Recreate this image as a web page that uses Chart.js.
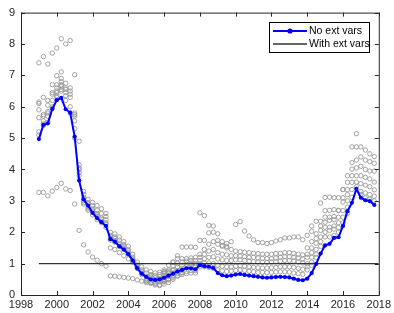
<!DOCTYPE html>
<html>
<head>
<meta charset="utf-8">
<script src="https://cdn.jsdelivr.net/npm/chart.js@4.4.0/dist/chart.umd.min.js"></script>
<style>
  html, body { margin: 0; padding: 0; background: #fff; }
  #wrap { width: 394px; height: 313px; }
</style>
</head>
<body>
<div id="wrap"><canvas id="c" width="394" height="313"></canvas></div>
<script>
// x axis: years, quarterly points
const xTicks = [1998, 2000, 2002, 2004, 2006, 2008, 2010, 2012, 2014, 2016, 2018];
const yTicks = [0, 1, 2, 3, 4, 5, 6, 7, 8, 9];

// No ext vars (blue), quarterly from 1999Q1
const blueStart = 1999.0;
const blueVals = [
  4.97, 5.42, 5.47, 5.93,
  6.21, 6.28, 5.92, 5.81,
  5.05, 3.65, 3.05, 2.85,
  2.62, 2.45, 2.32, 2.20,
  1.78, 1.70, 1.55, 1.45,
  1.30, 1.10, 0.85, 0.68,
  0.58, 0.50, 0.48, 0.50,
  0.55, 0.62, 0.68, 0.75,
  0.80, 0.85, 0.85, 0.82,
  0.95, 0.92, 0.90, 0.86,
  0.70, 0.63, 0.60, 0.62,
  0.65, 0.67, 0.64, 0.62,
  0.60, 0.58, 0.56, 0.55,
  0.56, 0.57, 0.58, 0.57,
  0.56, 0.52, 0.48, 0.47,
  0.52, 0.70, 0.99, 1.32,
  1.58, 1.63, 1.82, 1.84,
  2.20, 2.67, 2.94, 3.38,
  3.10, 3.02, 2.99, 2.87
];

// With ext vars (black)
const extX = [1999, 2018];
const extY = [1, 1];

// gray circles: real-time vintages, each with a start quarter
const grayTop = [7.40, 7.60, 7.36, 7.71, 7.87, 8.17, 8.00, 8.11];
const grayTop2 = [6.99, 7.11, null, null, 7.02];
const grayE1 = [6.15, 6.30, 6.20, 6.70, 6.70, 6.90, 6.75, 6.60, 5.80, 4.15, 3.20, 2.95, 2.95, 2.85, 2.75, 2.60, 2.00, 1.95, 1.85, 1.70, 1.55, 1.30, 1.05, 0.90, 0.80, 0.75, 0.70, 0.72, 0.75];
const grayE2 = [6.10, 5.75, 6.05, 6.45, 6.60, 6.80, 6.60, 6.50, 5.75, 4.90, 3.30, 3.05, 2.85, 2.70, 2.60, 2.50, 1.90, 1.85, 1.75, 1.60, 1.45, 1.20, 0.95, 0.80, 0.70, 0.65, 0.62, 0.65, 0.70, 0.75, 0.80];
const grayE3 = [5.90, 5.55, 5.80, 6.20, 6.45, 6.65, 6.45, 6.30, 5.55, 4.05, 3.10, 2.90, 2.75, 2.60, 2.45, 2.40, 1.85, 1.80, 1.65, 1.55, 1.40, 1.15, 0.90, 0.75, 0.60, 0.55, 0.55, 0.58, 0.62, 0.70];
const grayE4 = [5.65, 5.45, 5.70, 6.00, 6.30, 6.50, 6.20, 6.00, 5.30, 3.90, 3.00, 2.80, 2.65, 2.50, 2.35, 2.30, 1.80, 1.72, 1.60, 1.50, 1.35, 1.12, 0.88, 0.70, 0.50, 0.45, 0.42, 0.45, 0.50];
const grayE5 = [5.20, 5.40, 5.50, 5.95, 6.35, 6.55, 6.35, 5.80, 5.00, 3.80, 2.90, 2.70, 2.55, 2.40, 2.30, 2.15, 1.75, 1.68, 1.55, 1.45, 1.30, 1.08, 0.85, 0.65, 0.45, 0.40, 0.38, 0.42, 0.45, 0.52];
const grayE6 = [5.10, 5.70, 5.85, 6.40, 6.50, 6.70, 6.55, 6.40, 5.70, 4.00, 2.95, 2.75, 2.70, 2.55, 2.40, 2.25];
const grayLow1 = [3.27, 3.27, 3.16, 3.31, 3.43, 3.56, 3.38, 3.33, 2.90, 2.06, 1.60, 1.37, 1.21, 1.11, 1.00, 0.92];
const grayLow2 = [0.61, 0.60, 0.58, 0.56, 0.54, 0.52, 0.48, 0.44, 0.40, 0.37, 0.32, 0.30];
const grayLow3 = [1.50, 1.45, 1.35, 1.25, 1.15, 1.05, 0.95];
const grayB6 = [0.45, 0.40, 0.35, 0.33, 0.35, 0.40, 0.50, 0.60, 0.65, 0.68, 0.70, 0.70];
const grayB7 = [0.60, 0.55, 0.50, 0.45, 0.48, 0.55, 0.62, 0.70];
const grayRise = [1.05, 1.25, 1.53, 1.53, 1.53, 1.52];
const grayMid2008 = [1.74, 1.74, 1.98, 2.00, 1.74, 1.58, 1.55];
const grayTopMid = [2.62, 2.53, 2.22, 2.20, 1.95, 1.70, 1.64, 1.70, 2.25, 2.34, 2.04, 1.88, 1.76, 1.67, 1.67, 1.64, 1.67, 1.72, 1.76, 1.82, 1.82, 1.85, 1.85, 1.76, 1.90, 2.03];
const grayB1 = [0.80, 0.95, 1.05, 1.16, 1.16, 1.16, 1.18, 1.20, 1.30, 1.45, 1.62, 1.70, 1.62, 1.55, 1.50, 1.45, 1.40, 1.38, 1.36, 1.35, 1.33, 1.32, 1.30, 1.30, 1.30, 1.32, 1.33, 1.35, 1.35, 1.33, 1.30, 1.28];
const grayB2 = [0.70, 0.80, 0.92, 1.00, 1.05, 1.08, 1.10, 1.10, 1.20, 1.30, 1.40, 1.45, 1.35, 1.30, 1.28, 1.25, 1.25, 1.24, 1.22, 1.20, 1.20, 1.18, 1.17, 1.16, 1.16, 1.18, 1.20, 1.22, 1.22, 1.20, 1.18, 1.15];
const grayB3 = [0.60, 0.70, 0.80, 0.90, 0.95, 0.98, 1.00, 1.00, 1.10, 1.15, 1.20, 1.22, 1.15, 1.12, 1.10, 1.10, 1.12, 1.12, 1.10, 1.08, 1.06, 1.05, 1.04, 1.04, 1.05, 1.06, 1.08, 1.10, 1.10, 1.08, 1.05, 1.02];
const grayB4 = [0.50, 0.60, 0.70, 0.78, 0.85, 0.90, 0.92, 0.92, 1.00, 1.02, 1.02, 1.00, 0.95, 0.92, 0.90, 0.90, 0.92, 0.93, 0.92, 0.90, 0.88, 0.87, 0.86, 0.86, 0.87, 0.88, 0.90, 0.90, 0.90, 0.88, 0.85, 0.82];
const grayB5 = [0.42, 0.50, 0.60, 0.68, 0.72, 0.75, 0.78, 0.78, 0.90, 0.90, 0.88, 0.85, 0.80, 0.77, 0.75, 0.76, 0.78, 0.80, 0.78, 0.76, 0.74, 0.72, 0.72, 0.71, 0.72, 0.73, 0.74, 0.74, 0.73, 0.70, 0.68, 0.66];
const grayF1 = [2.20, 2.35, 2.93, 3.11, 3.12, 3.10, 3.10, 3.36, 3.80, 4.72, 5.14, 4.72, 4.62, 4.50, 4.41];
const grayF2 = [1.50, 1.70, 1.95, 2.35, 2.69, 2.70, 2.72, 2.70, 3.36, 3.59, 4.22, 4.72, 4.40, 4.30, 4.25, 4.20];
const grayF3 = [1.30, 1.50, 1.80, 2.20, 2.48, 2.48, 2.50, 2.69, 3.10, 3.36, 4.01, 4.30, 4.10, 4.00, 3.95, 3.95];
const grayF4 = [1.20, 1.35, 1.65, 2.06, 2.32, 2.38, 2.40, 2.48, 2.96, 3.20, 3.80, 4.05, 3.80, 3.75, 3.70, 3.60];
const grayF5 = [1.00, 1.20, 1.45, 1.85, 2.16, 2.16, 2.20, 2.30, 2.69, 3.00, 3.59, 3.80, 3.55, 3.50, 3.45, 3.35];
const grayF6 = [0.90, 1.05, 1.30, 1.70, 2.00, 2.06, 2.10, 2.15, 2.48, 2.80, 3.36, 3.60, 3.30, 3.25, 3.20, 3.15];
const grayF7 = [0.80, 0.95, 1.20, 1.55, 1.85, 1.85, 1.90, 2.00, 2.30, 2.60, 3.11, 3.45, 3.20, 3.10, 3.05, 3.00];

const graySeries = [
  [1999.0, grayTop], [2000.0, grayTop2],
  [1999.0, grayE1], [1999.0, grayE2], [1999.0, grayE3], [1999.0, grayE4], [1999.0, grayE5], [1999.0, grayE6],
  [1999.0, grayLow1], [2003.0, grayLow2], [2003.0, grayLow3],
  [2005.0, grayB6], [2005.25, grayB7], [2006.5, grayRise], [2008.0, grayMid2008], [2008.0, grayTopMid],
  [2006.0, grayB1], [2006.0, grayB2], [2006.0, grayB3], [2006.0, grayB4], [2006.0, grayB5],
  [2014.25, grayF1], [2014.0, grayF2], [2014.0, grayF3], [2014.0, grayF4], [2014.0, grayF5], [2014.0, grayF6], [2014.0, grayF7]
];

function toPoints(start, vals) {
  return vals.map((v, i) => ({ x: start + i * 0.25, y: v })).filter(p => p.y !== null);
}

const grayPoints = [];
graySeries.forEach(([s, v]) => grayPoints.push(...toPoints(s, v)));

const axisColor = '#262626';
const fontFam = '"Liberation Sans", Arial, Helvetica, sans-serif';

// box + inward ticks + legend, matlab style
const boxPlugin = {
  id: 'box',
  afterDraw(chart) {
    const { ctx, chartArea: a, scales } = chart;
    ctx.save();
    ctx.strokeStyle = axisColor;
    ctx.lineWidth = 1;
    ctx.strokeRect(a.left + 0.5, a.top + 0.5, a.right - a.left, a.bottom - a.top);
    const tl = 4;
    ctx.beginPath();
    xTicks.forEach(t => {
      const px = Math.round(scales.x.getPixelForValue(t)) + 0.5;
      ctx.moveTo(px, a.bottom); ctx.lineTo(px, a.bottom - tl);
      ctx.moveTo(px, a.top); ctx.lineTo(px, a.top + tl);
    });
    yTicks.forEach(t => {
      const py = Math.round(scales.y.getPixelForValue(t)) + 0.5;
      ctx.moveTo(a.left, py); ctx.lineTo(a.left + tl, py);
      ctx.moveTo(a.right, py); ctx.lineTo(a.right - tl, py);
    });
    ctx.stroke();

    // legend
    const lx = 269.5, ly = 22.5, lw = 100, lh = 30;
    ctx.fillStyle = '#fff';
    ctx.fillRect(lx, ly, lw, lh);
    ctx.strokeStyle = '#000';
    ctx.lineWidth = 1;
    ctx.strokeRect(lx, ly, lw, lh);
    const ds = chart.data.datasets;
    ctx.lineWidth = ds[0].borderWidth;
    ctx.strokeStyle = ds[0].borderColor;
    ctx.beginPath(); ctx.moveTo(273, 31); ctx.lineTo(307, 31); ctx.stroke();
    ctx.fillStyle = ds[0].pointBackgroundColor;
    ctx.beginPath(); ctx.arc(290, 31, 2.6, 0, Math.PI * 2); ctx.fill();
    ctx.lineWidth = ds[1].borderWidth;
    ctx.strokeStyle = ds[1].borderColor;
    ctx.beginPath(); ctx.moveTo(273, 44); ctx.lineTo(307, 44); ctx.stroke();
    ctx.fillStyle = '#000';
    ctx.font = '10.5px ' + fontFam;
    ctx.textBaseline = 'middle';
    ctx.fillText(ds[0].label, 309, 31.5);
    ctx.fillText(ds[1].label, 309, 44.5);
    ctx.restore();
  }
};

new Chart(document.getElementById('c'), {
  type: 'scatter',
  data: {
    datasets: [
      {
        label: 'No ext vars',
        data: toPoints(blueStart, blueVals),
        showLine: true,
        borderColor: '#0000ff',
        borderWidth: 2,
        pointRadius: 2.1,
        pointBackgroundColor: '#0000ff',
        pointBorderColor: '#0000ff',
        pointBorderWidth: 0,
        order: 0
      },
      {
        label: 'With ext vars',
        data: extX.map((x, i) => ({ x, y: extY[i] })),
        showLine: true,
        borderColor: '#333333',
        borderWidth: 1.3,
        pointRadius: 0,
        order: 1
      },
      {
        label: 'vintages',
        data: grayPoints,
        showLine: false,
        pointRadius: 2.2,
        pointBorderWidth: 0.9,
        pointBorderColor: '#999999',
        pointBackgroundColor: 'rgba(0,0,0,0)',
        order: 2
      }
    ]
  },
  options: {
    responsive: false,
    animation: false,
    devicePixelRatio: 1,
    layout: { padding: { left: 0, right: 12, top: 11, bottom: 0 } },
    plugins: { legend: { display: false }, tooltip: { enabled: false } },
    scales: {
      x: {
        type: 'linear', min: 1998, max: 2018,
        afterBuildTicks: s => { s.ticks = xTicks.map(v => ({ value: v })); },
        afterFit: s => { s.height = 18; },
        grid: { display: false, drawTicks: false },
        border: { display: false },
        ticks: { color: axisColor, font: { family: fontFam, size: 11 }, padding: 3, callback: v => String(v), maxRotation: 0, autoSkip: false }
      },
      y: {
        min: 0, max: 9,
        afterBuildTicks: s => { s.ticks = yTicks.map(v => ({ value: v })); },
        afterFit: s => { s.width = 21; },
        grid: { display: false, drawTicks: false },
        border: { display: false },
        ticks: { color: axisColor, font: { family: fontFam, size: 11 }, padding: 6, callback: v => String(v) }
      }
    }
  },
  plugins: [boxPlugin]
});
</script>
</body>
</html>
